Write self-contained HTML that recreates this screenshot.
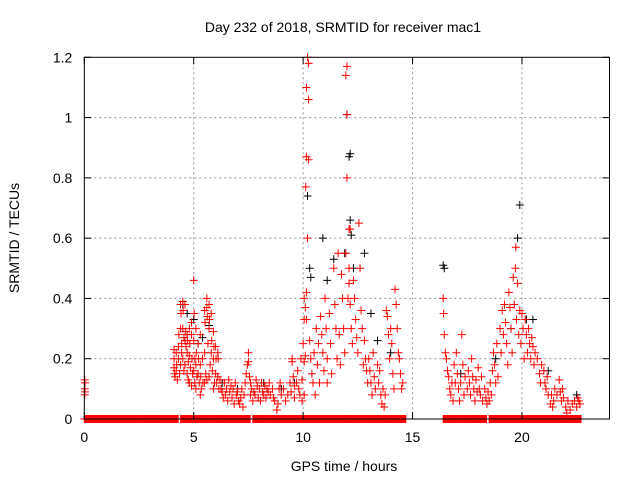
<!DOCTYPE html>
<html><head><meta charset="utf-8"><style>
body{margin:0;background:#fff}
svg text{font-family:"Liberation Sans",Arial,sans-serif;font-size:14px;fill:#000}
</style></head><body>
<svg id="chart" width="640" height="480" viewBox="0 0 640 480" xmlns="http://www.w3.org/2000/svg">
<rect width="640" height="480" fill="#fff"/>
<g id="grid"></g>
<g id="pts-black"></g>
<g id="pts-red"></g>
<g id="axes"></g>
<text x="343" y="32" text-anchor="middle">Day 232 of 2018, SRMTID for receiver mac1</text>
<text x="344" y="471" text-anchor="middle">GPS time / hours</text>
<text x="0" y="0" text-anchor="middle" transform="translate(19,238) rotate(-90)">SRMTID / TECUs</text>
</svg>
<script>
const xTicks=[0,5,10,15,20];
const yTicks=[0,0.2,0.4,0.6,0.8,1,1.2];
const yTickLabels=["0","0.2","0.4","0.6","0.8","1","1.2"];
const zeroRuns=[[0,4.3],[4.4,7.6],[7.7,14.7],[16.4,18.4],[18.5,22.7]];
const redPoints=[
[0.02,.13],[0.03,.12],[0.02,.10],[0.03,.09],[0.02,.08],
[4.1,.23],[4.1,.2],[4.1,.17],[4.12,.15],[4.15,.14],[4.2,.22],[4.2,.16],[4.22,.18],[4.25,.13],[4.3,.24],[4.3,.2],[4.32,.28],[4.35,.15],
[4.4,.38],[4.42,.35],[4.4,.3],[4.45,.25],[4.45,.22],[4.4,.18],[4.5,.39],[4.52,.36],[4.5,.3],[4.55,.27],[4.5,.2],[4.55,.16],
[4.6,.38],[4.62,.29],[4.6,.26],[4.65,.24],[4.6,.18],[4.7,.28],[4.72,.26],[4.7,.22],[4.75,.19],[4.7,.15],[4.75,.13],
[4.8,.3],[4.82,.25],[4.8,.21],[4.85,.17],[4.8,.12],[4.9,.32],[4.9,.28],[4.92,.2],[4.95,.15],[4.9,.11],
[5.0,.46],[5.02,.35],[5.0,.26],[5.05,.2],[5.0,.16],[5.05,.12],[5.1,.3],[5.12,.22],[5.1,.18],[5.15,.14],[5.1,.1],
[5.2,.25],[5.22,.2],[5.2,.15],[5.25,.12],[5.3,.28],[5.3,.18],[5.32,.14],[5.35,.1],[5.3,.08],[5.4,.2],[5.42,.12],
[5.5,.36],[5.52,.32],[5.5,.22],[5.55,.15],[5.5,.12],[5.6,.4],[5.6,.37],[5.62,.34],[5.65,.25],[5.6,.13],
[5.7,.38],[5.72,.33],[5.7,.3],[5.75,.18],[5.7,.14],[5.8,.35],[5.82,.26],[5.8,.22],[5.85,.16],
[5.9,.29],[5.92,.24],[5.9,.2],[5.95,.12],[5.9,.1],[6.0,.24],[6.02,.2],[6.0,.15],[6.05,.12],[6.1,.22],[6.12,.2],[6.1,.14],[6.15,.1],
[6.2,.13],[6.25,.1],[6.3,.09],[6.35,.07],[6.4,.12],[6.45,.08],[6.5,.1],[6.55,.06],[6.6,.13],[6.65,.09],[6.7,.11],[6.75,.07],
[6.8,.1],[6.85,.05],[6.9,.12],[6.95,.08],[7.0,.09],[7.05,.06],[7.1,.05],[7.15,.07],[7.2,.1],[7.25,.04],
[7.3,.08],[7.35,.12],[7.4,.15],[7.45,.18],[7.5,.22],[7.5,.19],[7.55,.14],[7.6,.12],[7.6,.08],[7.65,.1],[7.7,.06],[7.75,.09],
[7.8,.08],[7.85,.13],[7.9,.11],[7.95,.07],[8.0,.1],[8.05,.06],[8.1,.12],[8.15,.09],[8.2,.08],[8.25,.11],[8.3,.07],[8.35,.1],
[8.4,.09],[8.45,.12],[8.5,.08],[8.6,.1],[8.65,.07],[8.7,.06],[8.8,.03],[8.85,.05],[8.9,.1],[8.95,.12],[9.0,.08],[9.1,.1],
[9.2,.06],[9.3,.08],[9.4,.12],[9.45,.09],[9.5,.19],[9.5,.2],[9.55,.14],[9.6,.11],[9.6,.07],[9.7,.12],[9.75,.16],[9.8,.1],
[9.85,.08],[9.9,.2],[9.95,.13],[9.95,.06],[10.0,.25],[10.05,.19],[10.1,.21],[10.05,.08],
[10.2,1.2],[10.25,1.18],[10.15,1.1],[10.25,1.06],[10.15,.87],[10.25,.86],[10.12,.77],[10.2,.6],[10.15,.42],[10.05,.4],[10.1,.37],[10.15,.33],[10.05,.33],
[10.3,.26],[10.35,.2],[10.4,.15],[10.45,.12],[10.5,.22],[10.55,.08],[10.6,.3],[10.65,.18],[10.7,.25],[10.75,.12],
[10.8,.34],[10.85,.28],[10.9,.22],[10.95,.16],[11.0,.4],[11.05,.3],[11.1,.2],[11.1,.12],[11.2,.35],[11.25,.25],[11.3,.15],
[11.4,.5],[11.45,.38],[11.5,.3],[11.55,.2],[11.6,.55],[11.65,.28],[11.7,.18],[11.75,.48],[11.8,.4],[11.85,.3],[11.9,.22],
[12.0,1.17],[11.95,1.14],[12.0,1.01],[12.0,.8],[12.1,.63],[12.15,.63],[11.95,.55],[12.1,.5],[12.1,.45],[12.05,.4],[12.15,.38],[12.2,.3],[12.25,.25],
[12.3,.46],[12.35,.4],[12.4,.33],[12.45,.27],[12.5,.22],[12.55,.65],[12.6,.5],[12.65,.36],[12.7,.3],[12.75,.18],
[12.8,.26],[12.85,.2],[12.9,.16],[12.95,.12],[13.0,.2],[13.05,.16],[13.1,.12],[13.15,.08],[13.2,.22],[13.25,.14],[13.3,.1],
[13.4,.18],[13.45,.12],[13.5,.16],[13.55,.08],[13.6,.05],[13.65,.1],[13.7,.04],[13.75,.08],[13.8,.36],[13.85,.34],[13.9,.28],
[13.95,.2],[14.0,.3],[14.05,.25],[14.1,.15],[14.15,.1],[14.2,.43],[14.25,.38],[14.3,.3],[14.35,.22],[14.4,.2],[14.45,.15],[14.5,.1],[14.55,.12],
[16.4,.4],[16.42,.35],[16.45,.28],[16.5,.22],[16.55,.2],[16.6,.16],[16.65,.14],[16.7,.1],[16.75,.08],[16.8,.12],[16.85,.06],
[16.9,.18],[16.95,.12],[17.0,.22],[17.05,.15],[17.1,.1],[17.15,.06],[17.2,.12],[17.25,.28],[17.3,.18],[17.35,.08],[17.4,.14],
[17.5,.1],[17.55,.16],[17.6,.12],[17.65,.08],[17.7,.2],[17.75,.14],[17.8,.1],[17.85,.06],[17.9,.13],[17.95,.09],[18.0,.17],
[18.05,.1],[18.1,.08],[18.15,.14],[18.2,.06],[18.3,.1],[18.35,.07],[18.4,.05],[18.45,.09],[18.5,.06],[18.55,.12],[18.6,.08],
[18.65,.16],[18.7,.22],[18.75,.18],[18.8,.12],[18.85,.25],[18.9,.14],[19.0,.3],[19.05,.22],[19.1,.36],[19.15,.28],[19.2,.38],
[19.25,.32],[19.3,.25],[19.35,.18],[19.4,.42],[19.45,.37],[19.5,.3],[19.55,.22],[19.6,.47],[19.65,.38],[19.7,.5],[19.72,.57],
[19.75,.33],[19.8,.45],[19.85,.28],[19.9,.36],[19.95,.25],[20.0,.35],[20.05,.3],[20.1,.2],[20.15,.33],[20.2,.28],[20.25,.22],
[20.3,.3],[20.35,.25],[20.4,.2],[20.45,.27],[20.5,.24],[20.55,.18],[20.6,.22],[20.7,.2],[20.8,.15],[20.85,.12],[20.9,.18],
[21.0,.16],[21.05,.12],[21.1,.1],[21.15,.14],[21.2,.08],[21.3,.05],[21.35,.08],[21.4,.04],[21.45,.06],[21.5,.1],[21.6,.08],
[21.7,.13],[21.75,.09],[21.8,.06],[21.85,.1],[21.9,.07],[22.0,.04],[22.05,.02],[22.1,.06],[22.2,.03],[22.3,.05],[22.4,.06],
[22.5,.04],[22.55,.07],[22.6,.06],[22.65,.05]
];
const blackPoints=[
[4.5,.38],[4.7,.35],[5.0,.33],[5.2,.25],[5.4,.27],[5.7,.31],[6.3,.12],[7.0,.1],[8.2,.12],[9.0,.1],[9.6,.12],
[10.2,.74],[10.3,.5],[10.35,.47],[10.9,.6],[11.1,.46],[11.4,.53],[11.9,.55],[12.0,1.01],[12.1,.87],[12.15,.88],
[12.2,.61],[12.15,.66],[12.3,.5],[12.8,.55],[13.1,.35],[13.4,.26],[14.0,.22],[16.4,.51],[16.45,.5],[17.2,.15],
[18.8,.2],[19.5,.3],[19.8,.6],[19.9,.71],[20.2,.33],[20.5,.33],[21.2,.16],[22.5,.08]
];
const NS="http://www.w3.org/2000/svg";
const L=84.3,R=609.5,T=57.3,B=419;
const xS=t=>L+(t/24)*(R-L);
const yS=v=>B-(v/1.2)*(B-T);
function mk(tag,attrs,parent){const e=document.createElementNS(NS,tag);for(const k in attrs)e.setAttribute(k,attrs[k]);parent.appendChild(e);return e;}
const grid=document.getElementById('grid'),axes=document.getElementById('axes');
xTicks.forEach(t=>{
  if(t>0){const g=mk('line',{x1:xS(t),x2:xS(t),y1:T,y2:B,stroke:'#999','stroke-dasharray':'2,3'},grid);
  
  }
  mk('line',{x1:xS(t),x2:xS(t),y1:B,y2:B-7,stroke:'#000'},axes);
  mk('line',{x1:xS(t),x2:xS(t),y1:T,y2:T+7,stroke:'#000'},axes);
  const tx=mk('text',{x:xS(t),y:B+23,'text-anchor':'middle'},axes);tx.textContent=t;
  
  
});
yTicks.forEach((v,i)=>{
  if(v>0&&v<1.2){const g=mk('line',{x1:L,x2:R,y1:yS(v),y2:yS(v),stroke:'#999','stroke-dasharray':'2,3'},grid);
  
  }
  mk('line',{x1:L,x2:L+7,y1:yS(v),y2:yS(v),stroke:'#000'},axes);
  mk('line',{x1:R,x2:R-7,y1:yS(v),y2:yS(v),stroke:'#000'},axes);
  const tx=mk('text',{x:L-12,y:yS(v)+5,'text-anchor':'end'},axes);tx.textContent=yTickLabels[i];
  
  
});
const fr=mk('rect',{x:L,y:T,width:R-L,height:B-T,fill:'none',stroke:'#000','stroke-width':1},axes);


function plus(t,v,col,g){
  const x=xS(t),y=yS(v);
  const p=mk('path',{d:`M${x-4},${y}H${x+4}M${x},${y-4}V${y+4}`,stroke:col,'stroke-width':1,fill:'none'},g);
  
  
}
const gr=document.getElementById('pts-red'),gb=document.getElementById('pts-black');
blackPoints.forEach(([t,v])=>plus(t,v,'#000',gb));
zeroRuns.forEach(([a,b])=>{for(let t=a;t<=b+1e-9;t+=0.03)plus(t,0,'#f00',gr);});
redPoints.forEach(([t,v])=>plus(t,v,'#f00',gr));
</script>
</body></html>
